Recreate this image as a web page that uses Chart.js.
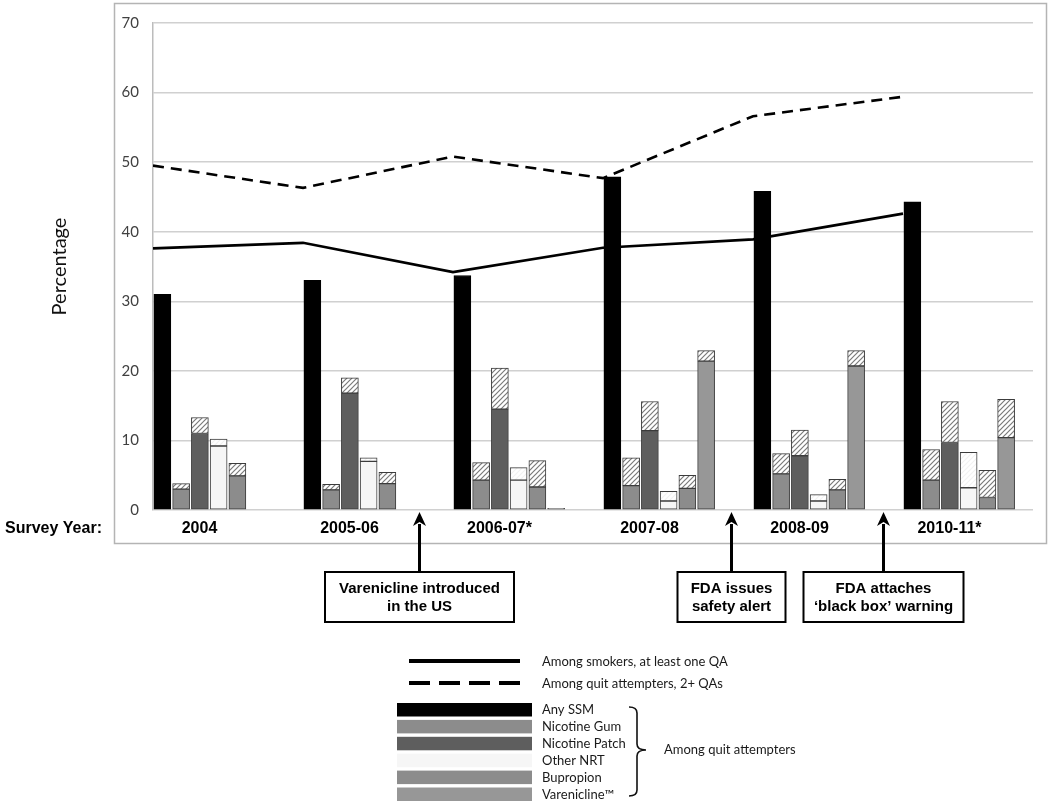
<!DOCTYPE html>
<html>
<head>
<meta charset="utf-8">
<script src="https://cdn.jsdelivr.net/npm/chart.js@4.4.1/dist/chart.umd.min.js"></script>
<style>
  html, body { margin: 0; padding: 0; background: #fff; }
  #wrap { width: 1050px; height: 804px; }
</style>
</head>
<body>
<div id="wrap"><canvas id="chart" width="1050" height="804"></canvas></div>
<script>
// ==========================================
// DATA
// ==========================================

const surveyYears = ["2004", "2005-06", "2006-07*", "2007-08", "2008-09", "2010-11*"];
const yTicks = [0, 10, 20, 30, 40, 50, 60, 70];

// Lines
const atLeastOneQA = [37.6, 38.4, 34.2, 37.7, 38.9, 42.6]; // among smokers
const twoPlusQAs = [49.5, 46.3, 50.8, 47.7, 56.6, 59.4];   // among quit attempters

// Bars: solid lower part + hatched upper part
const anySSM = [31.0, 33.0, 33.7, 47.9, 45.8, 44.3];
const gumBase = [3.0, 2.9, 4.3, 3.5, 5.2, 4.3];
const gumTop = [0.8, 0.8, 2.5, 4.0, 2.9, 4.4];
const patchBase = [11.0, 16.8, 14.5, 11.4, 7.8, 9.7];
const patchTop = [2.3, 2.2, 5.9, 4.2, 3.7, 5.9];
const otherBase = [9.2, 7.0, 4.3, 1.3, 1.3, 3.2];
const otherTop = [1.0, 0.5, 1.8, 1.4, 0.9, 5.1];
const bupBase = [4.9, 3.8, 3.3, 3.1, 2.9, 1.8];
const bupTop = [1.8, 1.6, 3.8, 1.9, 1.5, 3.9];
const varBase = [null, null, 0.25, 21.4, 20.7, 10.4];
const varTop = [null, null, null, 1.5, 2.2, 5.5];

// Legend / annotation text
const lineLabels = ["Among smokers, at least one QA", "Among quit attempters, 2+ QAs"];
const barLabels = ["Any SSM", "Nicotine Gum", "Nicotine Patch", "Other NRT", "Bupropion", "Varenicline\u2122"];
const eventLabels = [
  ["Varenicline introduced", "in the US"],
  ["FDA issues", "safety alert"],
  ["FDA attaches", "\u2018black box\u2019 warning"],
];

// ==========================================
// STYLES
// ==========================================

const SANS = "Lato, 'Open Sans', sans-serif";
const BOLD = "'Liberation Sans', Arial, sans-serif";
const barColors = ["#000000", "#8c8c8c", "#5e5e5e", "#f6f6f6", "#8c8c8c", "#979797"];
const edge = "#3c3c3c";

const canvas = document.getElementById("chart");
const ctx = canvas.getContext("2d");

// diagonal hatch used for the upper part of each bar
function makeHatch(bg, lineColor) {
  const c = document.createElement("canvas");
  c.width = 5;
  c.height = 5;
  const g = c.getContext("2d");
  g.fillStyle = bg;
  g.fillRect(0, 0, 5, 5);
  g.strokeStyle = lineColor;
  g.lineWidth = 1.2;
  g.beginPath();
  g.moveTo(-1, 6); g.lineTo(6, -1);
  g.moveTo(-1, 1); g.lineTo(1, -1);
  g.moveTo(4, 6); g.lineTo(6, 4);
  g.stroke();
  return ctx.createPattern(c, "repeat");
}
const hatch = makeHatch("#ffffff", "#7a7a7a");
const faintHatch = makeHatch("#ffffff", "#f2f2f2");

// ==========================================
// AXES
// ==========================================

const plotWidth = 880;   // pixels between y axis and right end of grid
const groupPx = 150;     // pixels per survey year
const slotUnits = 0.125; // one bar slot as a fraction of a year group
const seriesKeys = ["ssm", "gum", "patch", "other", "bup", "var"];

const toPoints = (arr) => arr.map((v, i) => ({ x: i, y: v }));
const groupTicks = (s) => { s.ticks = surveyYears.map((_, i) => ({ value: i })); };

// hidden linear axis: one unit = one survey year, shifted left by `start` units
function yearAxis(start) {
  return {
    type: "linear",
    display: false,
    offset: false,
    bounds: "data",
    min: start,
    max: start + plotWidth / groupPx,
    afterBuildTicks: groupTicks,
    grid: { display: false, offset: false },
  };
}

const scales = { xl: yearAxis(0) };
seriesKeys.forEach((key, j) => {
  scales["x_" + key] = yearAxis(-(j + 0.5) * slotUnits);
});

function barSet(label, values, key, fill, border) {
  return {
    type: "bar",
    label,
    stack: key,
    data: toPoints(values),
    backgroundColor: fill,
    borderColor: border,
    borderWidth: 1,
    borderSkipped: false,
    grouped: false,
    barThickness: 17,
    xAxisID: "x_" + key,
    yAxisID: "y",
    order: 1,
  };
}

function lineSet(label, values, dash) {
  return {
    type: "line",
    label,
    data: toPoints(values),
    borderColor: "#000",
    borderWidth: 2.6,
    borderDash: dash,
    pointRadius: 0,
    tension: 0,
    fill: false,
    stack: label,
    xAxisID: "xl",
    yAxisID: "y",
    order: 0,
  };
}

// ==========================================
// DECORATIONS (frame, year row, events, legend)
// ==========================================

const decorations = {
  id: "decorations",
  beforeDraw(chart) {
    const c = chart.ctx;
    c.save();
    c.fillStyle = "#fff";
    c.fillRect(0, 0, chart.width, chart.height);
    c.strokeStyle = "#b4b4b4";
    c.lineWidth = 1.5;
    c.strokeRect(114.5, 3.5, 932, 540);
    c.restore();
  },
  afterDraw(chart) {
    const c = chart.ctx;
    const xl = chart.scales.xl;
    c.save();

    // survey year row
    c.fillStyle = "#000";
    c.font = "bold 16px " + BOLD;
    c.textBaseline = "middle";
    c.textAlign = "left";
    c.fillText("Survey Year:", 5, 529);
    c.textAlign = "center";
    surveyYears.forEach((yr, i) => {
      c.fillText(yr, xl.getPixelForValue(i + 0.31), 529);
    });

    // event arrows + boxes
    const eventX = [1.77, 3.853, 4.867];
    const boxW = [189, 108, 160];
    eventLabels.forEach((lines, i) => {
      const x = Math.round(xl.getPixelForValue(eventX[i])) + 0.5;
      c.strokeStyle = "#000";
      c.lineWidth = 3;
      c.beginPath();
      c.moveTo(x, 524);
      c.lineTo(x, 572);
      c.stroke();
      c.fillStyle = "#000";
      c.beginPath();
      c.moveTo(x, 512);
      c.lineTo(x - 6.5, 526);
      c.lineTo(x, 522);
      c.lineTo(x + 6.5, 526);
      c.closePath();
      c.fill();
      c.lineWidth = 2;
      c.strokeRect(x - boxW[i] / 2, 572, boxW[i], 50);
      c.font = "bold 15px " + BOLD;
      c.textAlign = "center";
      lines.forEach((t, j) => c.fillText(t, x, 589 + j * 18));
    });

    // legend: line samples
    c.lineWidth = 4;
    c.strokeStyle = "#000";
    c.beginPath();
    c.moveTo(409, 661);
    c.lineTo(520, 661);
    c.stroke();
    c.setLineDash([21, 9]);
    c.beginPath();
    c.moveTo(409, 683);
    c.lineTo(520, 683);
    c.stroke();
    c.setLineDash([]);

    c.font = "13px " + SANS;
    c.fillStyle = "#1a1a1a";
    c.textAlign = "left";
    lineLabels.forEach((t, i) => c.fillText(t, 542, 662 + i * 22));

    // legend: bar swatches
    barLabels.forEach((t, i) => {
      const top = 703 + i * 16.9;
      c.fillStyle = barColors[i];
      c.fillRect(397, top, 135, 13.5);
      c.fillStyle = "#1a1a1a";
      c.fillText(t, 542, top + 7);
    });

    // bracket
    c.strokeStyle = "#111";
    c.lineWidth = 1.6;
    c.beginPath();
    c.moveTo(629, 707);
    c.quadraticCurveTo(637, 707, 637, 713);
    c.lineTo(637, 744);
    c.quadraticCurveTo(637, 750, 646, 750);
    c.quadraticCurveTo(637, 750, 637, 756);
    c.lineTo(637, 790);
    c.quadraticCurveTo(637, 796, 629, 796);
    c.stroke();
    c.fillText("Among quit attempters", 664, 750);

    c.restore();
  },
};

// ==========================================
// CHART
// ==========================================

scales.y = {
  type: "linear",
  position: "left",
  min: 0,
  max: 70,
  afterBuildTicks: (s) => { s.ticks = yTicks.map((v) => ({ value: v })); },
  afterFit: (s) => { s.width = 153; },
  ticks: { padding: 14, color: "#404040", font: { family: SANS, size: 15 } },
  grid: { color: "#d0d0d0", lineWidth: 1.5, drawTicks: false },
  border: { color: "#bcbcbc", width: 1.5 },
  title: {
    display: true,
    text: "Percentage",
    color: "#111",
    font: { family: SANS, size: 20 },
    padding: { top: 48, bottom: 0 },
  },
};

new Chart(ctx, {
  data: {
    datasets: [
      lineSet(lineLabels[0], atLeastOneQA, []),
      lineSet(lineLabels[1], twoPlusQAs, [11, 7]),
      barSet(barLabels[0], anySSM, "ssm", barColors[0], "#000"),
      barSet(barLabels[1], gumBase, "gum", barColors[1], edge),
      barSet(barLabels[1] + " (2+)", gumTop, "gum", hatch, edge),
      barSet(barLabels[2], patchBase, "patch", barColors[2], edge),
      barSet(barLabels[2] + " (2+)", patchTop, "patch", hatch, edge),
      barSet(barLabels[3], otherBase, "other", barColors[3], edge),
      barSet(barLabels[3] + " (2+)", otherTop, "other", faintHatch, edge),
      barSet(barLabels[4], bupBase, "bup", barColors[4], edge),
      barSet(barLabels[4] + " (2+)", bupTop, "bup", hatch, edge),
      barSet(barLabels[5], varBase, "var", barColors[5], edge),
      barSet(barLabels[5] + " (2+)", varTop, "var", hatch, edge),
    ],
  },
  options: {
    responsive: false,
    animation: false,
    layout: { padding: { left: 0, right: 17, top: 20, bottom: 294 } },
    plugins: {
      legend: { display: false },
      tooltip: { enabled: false },
      title: { display: false },
    },
    scales,
  },
  plugins: [decorations],
});
</script>
</body>
</html>
